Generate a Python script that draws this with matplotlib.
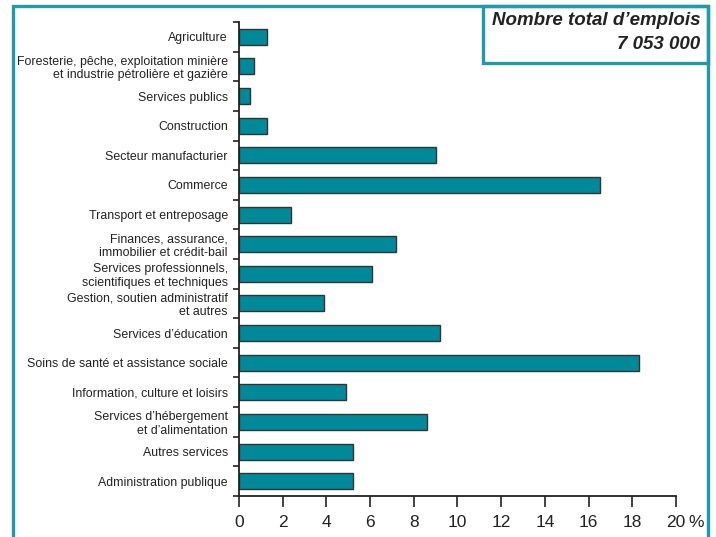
import matplotlib
matplotlib.use('Agg')
import matplotlib.pyplot as plt
from matplotlib.patches import Rectangle
import numpy as np

# Data: share of total employment by industry (%)
categories = [
    'Agriculture',
    'Foresterie, pêche, exploitation minière\net industrie pétrolière et gazière',
    'Services publics',
    'Construction',
    'Secteur manufacturier',
    'Commerce',
    'Transport et entreposage',
    'Finances, assurance,\nimmobilier et crédit-bail',
    'Services professionnels,\nscientifiques et techniques',
    'Gestion, soutien administratif\net autres',
    'Services d\u2019éducation',
    'Soins de santé et assistance sociale',
    'Information, culture et loisirs',
    'Services d\u2019hébergement\net d\u2019alimentation',
    'Autres services',
    'Administration publique',
]
values = [1.3, 0.7, 0.5, 1.3, 9.0, 16.5, 2.4, 7.2, 6.1, 3.9, 9.2, 18.3, 4.9, 8.6, 5.2, 5.2]
xticks = [0, 2, 4, 6, 8, 10, 12, 14, 16, 18, 20]

teal = '#008a99'
frame = '#1f9aa6'
font = 'Liberation Sans'

fig = plt.figure(figsize=(7.16, 5.37), dpi=100)
ax = fig.add_axes([0.3338, 0.0764, 0.6103, 0.8826])

y = np.arange(len(categories))
ax.barh(y, values, height=0.54, color=teal, edgecolor='#333333', linewidth=1.0)

ax.set_ylim(len(categories) - 0.5, -0.5)
ax.set_xlim(0, 20)

# y ticks at category boundaries, labels centred on the bars
ax.set_yticks(np.arange(-0.5, len(categories), 1.0))
ax.set_yticklabels([])
ax.tick_params(axis='y', which='major', length=4, width=1.2, direction='out', color='#222222')
ax.set_yticks(y, minor=True)
ax.set_yticklabels(categories, minor=True, family=font, fontsize=8.9,
                   linespacing=1.15, ha='right', color='#222222')
ax.tick_params(axis='y', which='minor', length=0, pad=8)

ax.set_xticks(xticks)
ax.set_xticklabels([str(t) for t in xticks], family=font, fontsize=12.5, color='#222222')
ax.tick_params(axis='x', length=8, width=1.2, color='#222222', pad=6)
ax.annotate('%', xy=(20, 0), xycoords=ax.get_xaxis_transform(),
            xytext=(9, -14), textcoords='offset points', family=font,
            fontsize=12.5, va='top', ha='left', color='#222222')

for s in ['top', 'right']:
    ax.spines[s].set_visible(False)
for s in ['left', 'bottom']:
    ax.spines[s].set_linewidth(1.3)
    ax.spines[s].set_color('#222222')

# outer teal frame
fig.patches.append(Rectangle((0.018, -0.02), 0.971, 1.009, transform=fig.transFigure,
                             fill=False, edgecolor=frame, linewidth=2.4))
# total box
fig.patches.append(Rectangle((0.6746, 0.8827), 0.314, 0.106, transform=fig.transFigure,
                             fill=False, edgecolor=frame, linewidth=2.4))
fig.text(0.978, 0.962, 'Nombre total d\u2019emplois', ha='right', va='center',
         fontsize=13.5, fontweight='bold', fontstyle='italic', family=font, color='#222222')
fig.text(0.978, 0.918, '7 053 000', ha='right', va='center',
         fontsize=13.5, fontweight='bold', fontstyle='italic', family=font, color='#222222')

fig.savefig('out.png', dpi=100)
